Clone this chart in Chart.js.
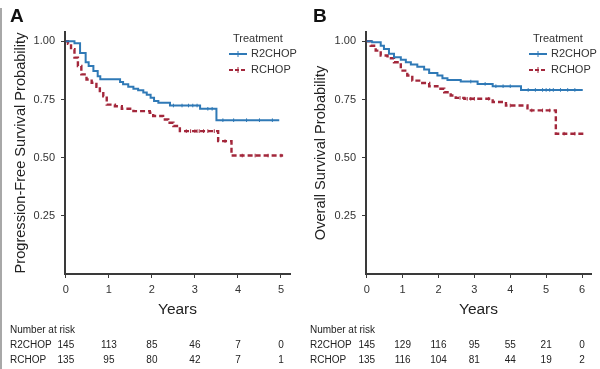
<!DOCTYPE html>
<html>
<head>
<meta charset="utf-8">
<script src="https://cdn.jsdelivr.net/npm/chart.js@4.4.1/dist/chart.umd.min.js"></script>
<style>
  body { margin: 0; background: #fff; width: 600px; height: 369px; overflow: hidden; position: relative; }
  .panel { position: absolute; top: 0; width: 300px; height: 369px; }
  .edge { position: absolute; left: 0; top: 8px; width: 2px; height: 361px; background: #a8a8a8; }
</style>
</head>
<body>
<div class="panel" style="left:0"><canvas id="chartA" width="300" height="369"></canvas></div>
<div class="panel" style="left:300px"><canvas id="chartB" width="300" height="369"></canvas></div>
<div class="edge"></div>
<script>
// tick labels
const pfsYears = [0, 1, 2, 3, 4, 5];
const osYears = [0, 1, 2, 3, 4, 5, 6];
const probTicks = [0.25, 0.5, 0.75, 1.0];

// Panel A - progression-free survival (step times, survival)
const pfsR2chopTime = [0, 0.2, 0.33, 0.46, 0.53, 0.64, 0.74, 0.8, 1.26, 1.33, 1.45, 1.57, 1.68, 1.8, 1.88, 1.97, 2.05, 2.15, 2.42, 3.12, 3.5, 4.96];
const pfsR2chopSurv = [1.0, 0.992, 0.95, 0.91, 0.894, 0.872, 0.85, 0.837, 0.825, 0.815, 0.805, 0.796, 0.79, 0.78, 0.77, 0.757, 0.743, 0.736, 0.724, 0.71, 0.661, 0.661];
const pfsR2chopCensor = [2.5, 2.7, 2.85, 2.95, 3.05, 3.3, 3.4, 3.65, 3.9, 4.2, 4.5, 4.8];
const pfsRchopTime = [0, 0.05, 0.12, 0.2, 0.28, 0.36, 0.48, 0.6, 0.71, 0.79, 0.87, 0.95, 1.14, 1.3, 1.57, 1.95, 2.03, 2.26, 2.38, 2.5, 2.65, 3.54, 3.85, 5.05];
const pfsRchopSurv = [1.0, 0.989, 0.966, 0.93, 0.894, 0.858, 0.836, 0.822, 0.805, 0.786, 0.764, 0.728, 0.721, 0.71, 0.70, 0.693, 0.679, 0.664, 0.65, 0.636, 0.614, 0.571, 0.509, 0.509];
const pfsRchopCensor = [2.8, 2.9, 3.0, 3.05, 3.1, 3.2, 3.3, 3.45, 3.7, 4.1, 4.4, 4.7, 5.0];

// Panel B - overall survival
const osR2chopTime = [0, 0.15, 0.39, 0.48, 0.62, 0.76, 0.95, 1.09, 1.23, 1.41, 1.6, 1.74, 1.97, 2.11, 2.25, 2.62, 3.09, 3.51, 4.3, 6.02];
const osR2chopSurv = [1.0, 0.996, 0.981, 0.967, 0.946, 0.931, 0.921, 0.91, 0.9, 0.891, 0.879, 0.864, 0.853, 0.841, 0.834, 0.827, 0.817, 0.807, 0.791, 0.791];
const osR2chopCensor = [2.9, 3.3, 3.6, 3.8, 4.0, 4.5, 4.7, 4.9, 5.0, 5.1, 5.2, 5.4, 5.6, 5.8];
const osRchopTime = [0, 0.11, 0.25, 0.39, 0.58, 0.76, 0.95, 1.13, 1.27, 1.51, 1.74, 1.97, 2.16, 2.34, 2.48, 2.72, 3.51, 3.88, 4.48, 5.27, 6.11];
const osRchopSurv = [1.0, 0.981, 0.96, 0.939, 0.927, 0.91, 0.874, 0.853, 0.831, 0.821, 0.807, 0.796, 0.781, 0.767, 0.757, 0.753, 0.739, 0.724, 0.703, 0.603, 0.603];
const osRchopCensor = [2.6, 2.8, 2.9, 3.0, 3.4, 4.0, 4.6, 4.9, 5.1, 5.5, 5.8];

// number at risk
const pfsRiskR2chop = [145, 113, 85, 46, 7, 0];
const pfsRiskRchop = [135, 95, 80, 42, 7, 1];
const osRiskR2chop = [145, 129, 116, 95, 55, 21, 0];
const osRiskRchop = [135, 116, 104, 81, 44, 19, 2];

const seriesNames = ['R2CHOP', 'RCHOP'];
const BLUE = '#2f79b6';
const RED = '#a3273b';
const AXIS = '#3a3a3a';
const FONT = "'Liberation Sans', Arial, sans-serif";

// merge event steps and censor marks into one point list
function kmPoints(times, surv, censor) {
  const pts = times.map((t, i) => ({ x: t, y: surv[i], c: false }));
  censor.forEach(t => {
    let y = surv[0];
    times.forEach((tt, i) => { if (tt <= t) y = surv[i]; });
    pts.push({ x: t, y: y, c: true });
  });
  return pts.sort((a, b) => a.x - b.x);
}

function kmDataset(label, pts, color, dashed) {
  return {
    label: label,
    data: pts,
    stepped: true,
    borderColor: color,
    borderWidth: dashed ? 2.4 : 2,
    borderDash: dashed ? [5, 3] : [],
    pointStyle: 'line',
    rotation: 90,
    pointRadius: ctx => (ctx.raw && ctx.raw.c ? 1.8 : 0),
    pointBorderWidth: 1,
    pointBorderColor: color,
    pointBackgroundColor: color,
    fill: false
  };
}

function panelPlugin(letter, years, riskA, riskB) {
  return {
    id: 'panel' + letter,
    afterDraw(chart) {
      const ctx = chart.ctx;
      const x = chart.scales.x;
      ctx.save();
      ctx.fillStyle = '#111';
      ctx.font = 'bold 19px ' + FONT;
      ctx.textBaseline = 'middle';
      ctx.textAlign = 'left';
      ctx.fillText(letter, letter === 'A' ? 10 : 13, 17);

      // legend
      ctx.fillStyle = '#333';
      ctx.font = '11px ' + FONT;
      ctx.fillText('Treatment', 233, 39);
      [[BLUE, false, 54], [RED, true, 70]].forEach(([col, dashed, yy], i) => {
        ctx.strokeStyle = col;
        ctx.lineWidth = 2;
        ctx.setLineDash(dashed ? [4, 2] : []);
        ctx.beginPath();
        ctx.moveTo(229, yy); ctx.lineTo(247, yy);
        ctx.stroke();
        ctx.setLineDash([]);
        ctx.lineWidth = 1;
        ctx.beginPath();
        ctx.moveTo(238, yy - 3); ctx.lineTo(238, yy + 3);
        ctx.stroke();
        ctx.fillStyle = '#333';
        ctx.fillText(seriesNames[i], 251, yy);
      });

      // number at risk table
      ctx.font = '10px ' + FONT;
      ctx.fillStyle = '#222';
      ctx.fillText('Number at risk', 10, 330);
      ctx.fillText(seriesNames[0], 10, 345);
      ctx.fillText(seriesNames[1], 10, 360);
      ctx.textAlign = 'center';
      years.forEach((yr, i) => {
        const px = x.getPixelForValue(yr);
        ctx.fillText(String(riskA[i]), px, 345);
        ctx.fillText(String(riskB[i]), px, 360);
      });
      ctx.restore();
    }
  };
}

function makeChart(id, letter, years, xMax, yTitle, yWidth, padRight, blueTimes, blueSurv, blueCens, redTimes, redSurv, redCens, riskA, riskB) {
  return new Chart(document.getElementById(id), {
    type: 'line',
    data: {
      datasets: [
        kmDataset(seriesNames[0], kmPoints(blueTimes, blueSurv, blueCens), BLUE, false),
        kmDataset(seriesNames[1], kmPoints(redTimes, redSurv, redCens), RED, true)
      ]
    },
    options: {
      responsive: false,
      animation: false,
      devicePixelRatio: 1,
      layout: { padding: { left: 0, right: padRight, top: 32, bottom: 50 } },
      plugins: { legend: { display: false }, tooltip: { enabled: false } },
      scales: {
        x: {
          type: 'linear',
          min: -0.02,
          max: xMax,
          afterBuildTicks: s => { s.ticks = years.map(v => ({ value: v })); },
          afterFit: s => { s.height = 45; },
          ticks: { color: '#333', font: { family: FONT, size: 11 }, padding: 5, maxRotation: 0 },
          grid: { drawOnChartArea: false, drawTicks: true, tickLength: 4, color: AXIS },
          border: { display: true, color: AXIS, width: 2 },
          title: {
            display: true, text: 'Years', color: '#222',
            font: { family: FONT, size: 15.5 },
            padding: { top: 0, bottom: 0 }
          }
        },
        y: {
          min: 0,
          max: 1.04,
          afterBuildTicks: s => { s.ticks = probTicks.map(v => ({ value: v })); },
          afterFit: s => { s.width = yWidth; },
          ticks: { color: '#333', font: { family: FONT, size: 11 }, padding: 6, callback: v => v.toFixed(2) },
          grid: { drawOnChartArea: false, drawTicks: true, tickLength: 4, color: AXIS },
          border: { display: true, color: AXIS, width: 2 },
          title: {
            display: true, text: yTitle, color: '#222',
            font: { family: FONT, size: 14.6 },
            padding: { top: 12, bottom: 0 }
          }
        }
      }
    },
    plugins: [panelPlugin(letter, years, riskA, riskB)]
  });
}

makeChart('chartA', 'A', pfsYears, 5.21, 'Progression-Free Survival Probability', 65, 10,
  pfsR2chopTime, pfsR2chopSurv, pfsR2chopCensor, pfsRchopTime, pfsRchopSurv, pfsRchopCensor,
  pfsRiskR2chop, pfsRiskRchop);
makeChart('chartB', 'B', osYears, 6.25, 'Overall Survival Probability', 66, 9,
  osR2chopTime, osR2chopSurv, osR2chopCensor, osRchopTime, osRchopSurv, osRchopCensor,
  osRiskR2chop, osRiskRchop);
</script>
</body>
</html>
